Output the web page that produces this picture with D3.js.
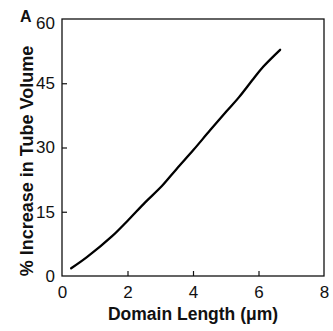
<!DOCTYPE html>
<html>
<head>
<meta charset="utf-8">
<script src="https://cdn.jsdelivr.net/npm/d3@7"></script>
<style>
  html, body { margin: 0; padding: 0; background: #fff; }
  svg { display: block; }
  text { font-family: "Liberation Sans", Arial, sans-serif; fill: #111; }
</style>
</head>
<body>
<svg id="chart" width="333" height="331"></svg>
<script>
// Domain length (µm) and the corresponding % increase in tube volume
const domainLength = [0.28, 0.76, 1.53, 2.04, 2.54, 3.05, 3.50, 4.01, 4.52, 5.03, 5.40, 5.84, 6.15, 6.66];
const volumeIncrease = [1.8, 4.4, 9.3, 13.2, 17.2, 21.0, 25.0, 29.4, 34.0, 38.5, 41.7, 46.0, 48.9, 52.8];

const xTicks = [0, 2, 4, 6, 8];
const yTicks = [0, 15, 30, 45, 60];

const margin = { left: 62, right: 9, top: 19, bottom: 55 };
const width = 333, height = 331;

const svg = d3.select("#chart");

const x = d3.scaleLinear().domain([0, 8]).range([margin.left, width - margin.right]);
const y = d3.scaleLinear().domain([0, 60]).range([height - margin.bottom, margin.top]);

// Frame around the plot area
svg.append("rect")
  .attr("x", x(0)).attr("y", y(60))
  .attr("width", x(8) - x(0)).attr("height", y(0) - y(60))
  .attr("fill", "none").attr("stroke", "#111").attr("stroke-width", 1.3);

// Axes with inward ticks
const xAxis = svg.append("g")
  .attr("transform", `translate(0,${y(0)})`)
  .call(d3.axisBottom(x).tickValues(xTicks).tickSizeInner(-5).tickSizeOuter(0).tickPadding(10));
const yAxis = svg.append("g")
  .attr("transform", `translate(${x(0)},0)`)
  .call(d3.axisLeft(y).tickValues(yTicks).tickSizeInner(-5).tickSizeOuter(0).tickPadding(7));

[xAxis, yAxis].forEach(g => {
  g.select(".domain").remove();
  g.selectAll(".tick line").attr("stroke", "#111").attr("stroke-width", 1.2);
  g.selectAll(".tick text")
    .attr("font-family", "Liberation Sans, Arial, sans-serif")
    .attr("font-size", 17).attr("fill", "#111");
});
// Hide ticks at the frame corners
xAxis.selectAll(".tick").filter(d => d === 0 || d === 8).select("line").remove();
yAxis.selectAll(".tick").filter(d => d === 0 || d === 60).select("line").remove();
yAxis.selectAll(".tick").filter(d => d === 60).select("text").attr("dy", "0.58em");

// Curve
const line = d3.line()
  .x((d, i) => x(domainLength[i]))
  .y(d => y(d))
  .curve(d3.curveCatmullRom);

svg.append("path")
  .datum(volumeIncrease)
  .attr("d", line)
  .attr("fill", "none")
  .attr("stroke", "#000")
  .attr("stroke-width", 2.3)
  .attr("stroke-linecap", "round");

// Axis titles
svg.append("text")
  .attr("x", (x(0) + x(8)) / 2).attr("y", 320)
  .attr("text-anchor", "middle")
  .attr("font-weight", "bold").attr("font-size", 17.5)
  .text("Domain Length (μm)");

svg.append("text")
  .attr("transform", `translate(32.5,161) rotate(-90)`)
  .attr("text-anchor", "middle")
  .attr("font-weight", "bold").attr("font-size", 18)
  .text("% Increase in Tube Volume");

// Panel letter
svg.append("text")
  .attr("x", 20).attr("y", 22)
  .attr("font-weight", "bold").attr("font-size", 16)
  .text("A");
</script>
</body>
</html>
